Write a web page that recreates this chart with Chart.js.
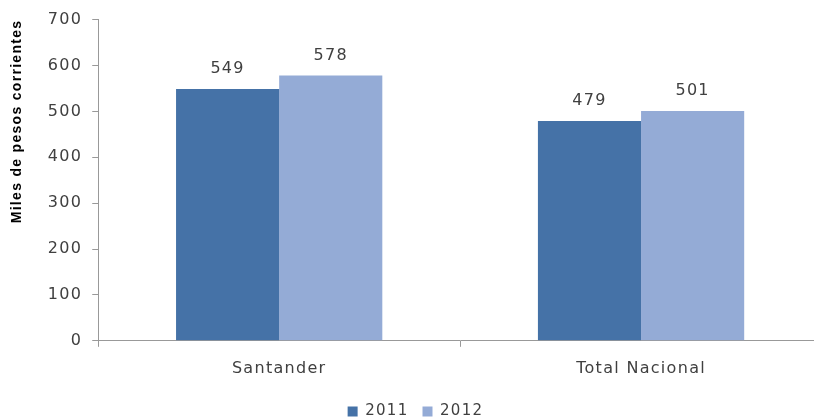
<!DOCTYPE html>
<html>
<head>
<meta charset="utf-8">
<script src="https://cdn.jsdelivr.net/npm/chart.js@4"></script>
<style>
html,body{margin:0;padding:0;background:#fff;overflow:hidden;}
#wrap{width:814px;height:417px;position:relative;overflow:hidden;}
</style>
</head>
<body>
<div id="wrap"><canvas id="c" width="822" height="417"></canvas></div>
<script>
const categories = ["Santander", "Total Nacional"];
const seriesNames = ["2011", "2012"];
const values2011 = [549, 479];
const values2012 = [578, 501];
const yTicks = [0, 100, 200, 300, 400, 500, 600, 700];

const canvas = document.getElementById('c');
const SPACING = '1.3px';

const spacingPlugin = {
  id: 'spacing',
  beforeUpdate(chart) { chart.ctx.letterSpacing = SPACING; },
  beforeLayout(chart) { chart.ctx.letterSpacing = SPACING; },
  beforeDraw(chart) { chart.ctx.letterSpacing = SPACING; }
};

const labelPlugin = {
  id: 'barLabels',
  afterDatasetsDraw(chart) {
    const ctx = chart.ctx;
    ctx.save();
    ctx.letterSpacing = SPACING;
    ctx.font = '16px "DejaVu Sans"';
    ctx.fillStyle = '#404040';
    ctx.textAlign = 'center';
    ctx.textBaseline = 'middle';
    chart.data.datasets.forEach((ds, i) => {
      const meta = chart.getDatasetMeta(i);
      meta.data.forEach((bar, j) => {
        ctx.fillText(String(ds.data[j]), bar.x, bar.y - 20);
      });
    });
    ctx.restore();
  }
};

new Chart(canvas, {
  type: 'bar',
  data: {
    labels: categories,
    datasets: [
      { label: seriesNames[0], data: values2011, backgroundColor: '#4572A7', borderWidth: 0 },
      { label: seriesNames[1], data: values2012, backgroundColor: '#94ABD6', borderWidth: 0 }
    ]
  },
  options: {
    responsive: false,
    animation: false,
    devicePixelRatio: 1,
    layout: { padding: { left: 9, right: 0, top: 8, bottom: -12 } },
    datasets: { bar: { barPercentage: 1.0, categoryPercentage: 0.57 } },
    plugins: {
      tooltip: { enabled: false },
      legend: {
        position: 'bottom',
        labels: {
          boxWidth: 10, boxHeight: 10, padding: 14,
          color: '#404040',
          font: { family: '"DejaVu Sans"', size: 15 }
        }
      }
    },
    scales: {
      x: {
        grid: { display: true, drawOnChartArea: false, offset: true, tickLength: 6, color: '#999', lineWidth: 1 },
        border: { display: true, color: '#999', width: 1 },
        ticks: { color: '#404040', font: { family: '"DejaVu Sans"', size: 16 }, padding: 12 }
      },
      y: {
        min: 0, max: 700,
        afterBuildTicks(scale) { scale.ticks = yTicks.map(v => ({ value: v })); },
        grid: { display: true, drawOnChartArea: false, tickLength: 6, color: '#999' },
        border: { display: true, color: '#999', width: 1 },
        ticks: { color: '#404040', font: { family: '"DejaVu Sans"', size: 16 }, padding: 10 },
        title: {
          display: true, text: 'Miles de pesos corrientes', align: 'end',
          color: '#000', font: { family: '"Liberation Sans Narrow", "Liberation Sans"', size: 14, weight: 'bold' },
          padding: { top: 0, bottom: 12 }
        }
      }
    }
  },
  plugins: [spacingPlugin, labelPlugin]
});
</script>
</body>
</html>
